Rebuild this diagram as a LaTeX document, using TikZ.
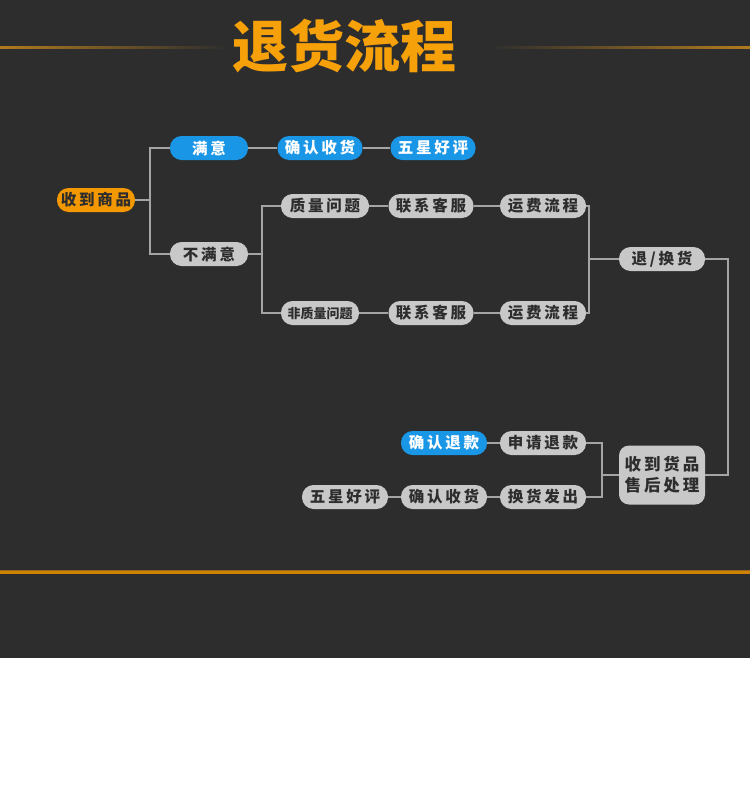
\documentclass[tikz,border=0pt]{standalone}
\usepackage{fontspec}
\newfontfamily\cjkfont{Noto Sans CJK SC}
\newfontfamily\cjkwide{Noto Sans CJK SC}[LetterSpace=18]
\usetikzlibrary{calc}
\definecolor{bgdark}{RGB}{45,45,45}
\definecolor{titleorange}{RGB}{247,161,10}
\definecolor{rulegold}{RGB}{176,122,30}
\definecolor{pillorange}{RGB}{243,152,0}
\definecolor{pillblue}{RGB}{26,150,230}
\definecolor{pillgray}{RGB}{200,200,200}
\definecolor{linkgray}{RGB}{165,165,165}
\definecolor{textdark}{RGB}{45,45,45}
\tikzset{
  link/.style={draw=linkgray,line width=1.6pt},
  pill/.style={
    rectangle,
    rounded corners=11.5pt,
    minimum width=86pt,
    minimum height=24pt,
    inner sep=0pt,
    fill=pillgray,
    text=textdark,
    font=\cjkwide\bfseries\fontsize{15.5}{17}\selectfont
  },
  blue pill/.style={pill,fill=pillblue,text=white},
  orange pill/.style={pill,fill=pillorange,text=textdark},
  big pill/.style={pill,rounded corners=10pt,minimum height=59pt,align=center,
    font=\cjkwide\bfseries\fontsize{16.5}{21}\selectfont}
}

\begin{document}
\begin{tikzpicture}[x=1pt,y=-1pt]
  % Page and background.
  \useasboundingbox (0,0) rectangle (750,806);
  \fill[white] (0,0) rectangle (750,806);
  \fill[bgdark] (0,0) rectangle (750,658);

  % Title with fading rules.
  \shade[left color=rulegold,right color=bgdark] (0,46) rectangle (228,48);
  \shade[left color=bgdark,right color=rulegold] (488,46) rectangle (750,48);
  \node[font=\cjkfont\bfseries\fontsize{56}{56}\selectfont,text=titleorange]
    (title) at (344,46) {退货流程};
  \fill[rulegold!85!black] (0,570) rectangle (750,571);
  \fill[pillorange!85!black] (0,571) rectangle (750,574);

  % First level.
  \node[orange pill,minimum width=78pt] (got) at (96,200) {收到商品};
  \node[blue pill,minimum width=78pt] (ok) at (209,148) {满意};
  \node[pill,minimum width=78pt] (notok) at (209,254) {不满意};

  % Satisfied branch.
  \node[blue pill,minimum width=85pt] (okrecv) at (320,148) {确认收货};
  \node[blue pill,minimum width=85pt] (okstar) at (433,148) {五星好评};

  % Not satisfied branches.
  \node[pill,minimum width=88pt] (qual) at (325,206) {质量问题};
  \node[pill,minimum width=78pt,font=\cjkfont\bfseries\fontsize{13}{14}\selectfont]
    (nqual) at (320,313) {非质量问题};
  \foreach \n/\y in {1/206,2/313} {
    \node[pill,minimum width=85pt] (call\n) at (431,\y) {联系客服};
    \node[pill] (fee\n) at (543,\y) {运费流程};
  }
  \node[pill] (swap) at (662,259) {退/换货};

  % After sales.
  \node[big pill] (after) at (662,475) {收到货品\\售后处理};
  \node[pill] (apply) at (543,443) {申请退款};
  \node[blue pill] (refund) at (444,443) {确认退款};
  \node[pill] (send) at (543,497) {换货发出};
  \node[pill] (recv) at (444,497) {确认收货};
  \node[pill] (star) at (345,497) {五星好评};

  % Connectors.
  \draw[link] (got.east) -- ++(15,0) |- (ok.west);
  \draw[link] (got.east) -- ++(15,0) |- (notok.west);
  \draw[link] (ok) -- (okrecv) -- (okstar);
  \draw[link] (notok.east) -- ++(14,0) |- (qual.west);
  \draw[link] (notok.east) -- ++(14,0) |- (nqual.west);
  \draw[link] (qual) -- (call1) -- (fee1);
  \draw[link] (nqual) -- (call2) -- (fee2);
  \draw[link] (fee1.east) -- ++(3,0) |- (swap.west);
  \draw[link] (fee2.east) -- ++(3,0) |- (swap.west);
  \draw[link] (swap.east) -- ++(23,0) |- (after.east);
  \draw[link] (after.west) -- ++(-17,0) |- (apply.east);
  \draw[link] (after.west) -- ++(-17,0) |- (send.east);
  \draw[link] (apply) -- (refund);
  \draw[link] (send) -- (recv) -- (star);
\end{tikzpicture}
\end{document}
